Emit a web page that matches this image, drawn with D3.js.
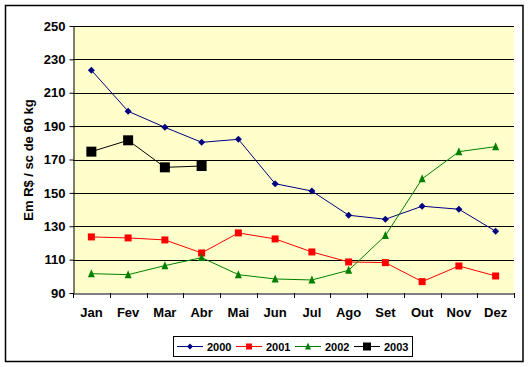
<!DOCTYPE html>
<html><head><meta charset="utf-8">
<script src="https://cdn.jsdelivr.net/npm/d3@7"></script>
<style>body{margin:0;background:#fff}svg{display:block}text{font-family:Arial,"Liberation Sans",sans-serif;font-weight:bold}</style>
</head><body><svg id="c" width="530" height="367"></svg>
<script>
const months = ["Jan","Fev","Mar","Abr","Mai","Jun","Jul","Ago","Set","Out","Nov","Dez"];
const s2000 = [223.5,198.9,189.3,180.3,182.1,155.5,151.1,136.6,134.2,142,140.2,127];
const s2001 = [123.6,123,121.8,114,126,122.4,114.6,108.6,108.2,96.8,106.2,100.2];
const s2002 = [101.6,101,106.4,111.2,101,98.4,97.8,103.6,124.4,158.4,174.7,177.7];
const s2003 = [174.7,181.5,165.3,166.1];
const yTicks = [90,110,130,150,170,190,210,230,250];
const seriesNames = ["2000","2001","2002","2003"];

const series = [
  {name:seriesNames[0], values:s2000, color:"#000080", shape:"diamond", size:7},
  {name:seriesNames[1], values:s2001, color:"#FF0000", shape:"square", size:7},
  {name:seriesNames[2], values:s2002, color:"#008000", shape:"triangle", size:7},
  {name:seriesNames[3], values:s2003, color:"#000000", shape:"square", size:10}
];

const svg = d3.select("#c");
const L=73, R=514, T=26, B=293;
svg.append("rect").attr("x",5.5).attr("y",5.5).attr("width",517.5).attr("height",356).attr("fill","#fff").attr("stroke","#000").attr("stroke-width",1.5);

const x = d3.scaleBand().domain(months).range([L,R]);
const y = d3.scaleLinear().domain([90,250]).range([B,T]);

svg.append("rect").attr("x",L).attr("y",T).attr("width",R-L).attr("height",B-T).attr("fill","#FFFFCC");

svg.append("g").selectAll("line").data(yTicks.slice(1)).join("line")
  .attr("x1",L).attr("x2",R).attr("y1",d=>Math.round(y(d))+0.5).attr("y2",d=>Math.round(y(d))+0.5)
  .attr("stroke","#000").attr("stroke-width",1);

const yAxis = svg.append("g").attr("transform",`translate(${L+0.5},0)`)
  .call(d3.axisLeft(y).tickValues(yTicks).tickSize(4).tickPadding(4).tickSizeOuter(0));
yAxis.selectAll("text").attr("font-size",13).attr("fill","#000");
yAxis.selectAll("line,path").attr("stroke","#000");

const xAxis = svg.append("g").attr("transform",`translate(0,${B+0.5})`)
  .call(d3.axisBottom(x).tickSize(0).tickPadding(14));
xAxis.select("path").attr("stroke","#000");
xAxis.selectAll("text").attr("font-size",13).attr("fill","#000");
// ticks between categories
svg.append("g").selectAll("line").data(d3.range(13)).join("line")
  .attr("x1",i=>Math.round(L+i*x.step())+0.5).attr("x2",i=>Math.round(L+i*x.step())+0.5)
  .attr("y1",B).attr("y2",B+5).attr("stroke","#000");

svg.append("text").attr("transform","translate(33,160) rotate(-90)").attr("text-anchor","middle")
  .attr("font-size",13).text("Em R$ / sc de 60 kg");

function marker(g, shape, size, color){
  const h=size/2;
  if(shape==="square") g.append("rect").attr("x",-h).attr("y",-h).attr("width",size).attr("height",size).attr("fill",color);
  else if(shape==="diamond") g.append("path").attr("d",`M0,${-h}L${h},0L0,${h}L${-h},0Z`).attr("fill",color);
  else g.append("path").attr("d",`M0,${-h-1}L${h},${h}L${-h},${h}Z`).attr("fill",color);
}

const line = d3.line().x((d,i)=>x(months[i])+x.bandwidth()/2).y(d=>y(d));
series.forEach(s=>{
  svg.append("path").datum(s.values).attr("d",line).attr("fill","none").attr("stroke",s.color).attr("stroke-width",1);
  s.values.forEach((v,i)=>{
    const g=svg.append("g").attr("transform",`translate(${x(months[i])+x.bandwidth()/2},${y(v)})`);
    marker(g,s.shape,s.size,s.color);
  });
});

// legend
const lg = svg.append("g");
lg.append("rect").attr("x",173.5).attr("y",336.5).attr("width",239).attr("height",20).attr("fill","#fff").attr("stroke","#000");
const lx=[177,236,295,354];
series.forEach((s,i)=>{
  const g=lg.append("g").attr("transform",`translate(${lx[i]},346.5)`);
  g.append("line").attr("x1",0).attr("x2",26).attr("stroke",s.color).attr("stroke-width",1);
  const m=g.append("g").attr("transform","translate(13,0)");
  marker(m,s.shape,i===3?8:6,s.color);
  g.append("text").attr("x",30).attr("y",4).attr("font-size",11).text(s.name);
});
</script></body></html>
